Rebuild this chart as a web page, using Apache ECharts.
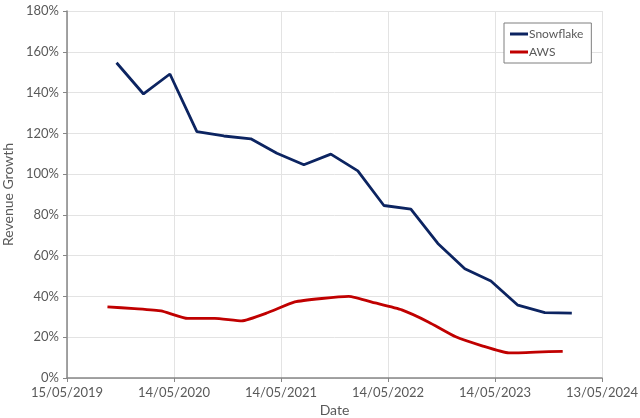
<!DOCTYPE html>
<html>
<head>
<meta charset="utf-8">
<script src="https://cdn.jsdelivr.net/npm/echarts@6/dist/echarts.min.js"></script>
<style>html,body{margin:0;padding:0;background:#fff}#c{width:640px;height:418px}</style>
</head>
<body>
<div id="c"></div>
<script>
const axisStart = '2019-05-15';
const axisEnd = '2024-05-13';
const snowflakeDates = ['2019-10-31','2020-01-31','2020-04-30','2020-07-31','2020-10-31','2021-01-31','2021-04-30','2021-07-31','2021-10-31','2022-01-31','2022-04-30','2022-07-31','2022-10-31','2023-01-31','2023-04-30','2023-07-31','2023-10-31','2024-01-31'];
const snowflakeGrowth = [154.6, 139.3, 149.1, 120.8, 118.7, 117.3, 110.2, 104.6, 109.8, 101.6, 84.6, 82.8, 66.0, 53.6, 47.6, 35.7, 32.1, 31.8];
const awsDates = ['2019-09-30','2019-12-31','2020-03-31','2020-06-30','2020-09-30','2020-12-31','2021-03-31','2021-06-30','2021-09-30','2021-12-31','2022-03-31','2022-06-30','2022-09-30','2022-12-31','2023-03-31','2023-06-30','2023-09-30','2023-12-31'];
const awsGrowth = [34.9, 34.0, 32.9, 29.2, 29.2, 28.0, 32.1, 37.3, 39.0, 40.0, 36.8, 33.4, 27.4, 20.2, 15.8, 12.3, 12.7, 13.1];
const yTicks = [0, 20, 40, 60, 80, 100, 120, 140, 160, 180];

const DAY = 86400000;
const base = Date.parse(axisStart + 'T00:00:00Z');
const toDay = s => Math.round((Date.parse(s + 'T00:00:00Z') - base) / DAY);
const fmt = v => {
  const d = new Date(base + v * DAY);
  const p = n => String(n).padStart(2, '0');
  return p(d.getUTCDate()) + '/' + p(d.getUTCMonth() + 1) + '/' + d.getUTCFullYear();
};
const font = 'Lato, "Open Sans", sans-serif';
const chart = echarts.init(document.getElementById('c'), null, {renderer: 'canvas'});
chart.setOption({
  animation: false,
  textStyle: {fontFamily: font},
  grid: {left: 67, right: 38, top: 11, bottom: 40, containLabel: false, outerBoundsMode: 'none'},
  legend: {
    orient: 'vertical', left: 504, top: 23,
    padding: [5, 8, 5, 6], itemGap: 6,
    borderColor: '#7f7f7f', borderWidth: 1, backgroundColor: '#fff',
    icon: 'rect', itemWidth: 18, itemHeight: 3,
    textStyle: {fontFamily: font, fontSize: 12, color: '#595959', padding: [0, 0, 0, -4]},
    data: ['Snowflake', 'AWS']
  },
  xAxis: {
    type: 'value', min: 0, max: toDay(axisEnd), interval: 365,
    name: 'Date', nameLocation: 'middle', nameGap: 24,
    nameTextStyle: {fontFamily: font, fontSize: 14, color: '#595959'},
    axisLine: {show: true, lineStyle: {color: '#868686', width: 1.5}},
    axisTick: {show: true, length: 4, lineStyle: {color: '#868686'}},
    axisLabel: {formatter: fmt, fontSize: 13, color: '#595959', margin: 8},
    splitLine: {show: true, lineStyle: {color: '#e3e3e3', width: 1}}
  },
  yAxis: {
    type: 'value', min: yTicks[0], max: yTicks[yTicks.length - 1], interval: yTicks[1] - yTicks[0],
    name: 'Revenue Growth', nameLocation: 'middle', nameGap: 47,
    nameTextStyle: {fontFamily: font, fontSize: 14, color: '#595959'},
    axisLine: {show: true, lineStyle: {color: '#868686', width: 1.5}},
    axisTick: {show: true, length: 4, lineStyle: {color: '#868686'}},
    axisLabel: {formatter: '{value}%', fontSize: 13, color: '#595959', margin: 8},
    splitLine: {show: true, lineStyle: {color: '#e3e3e3', width: 1}}
  },
  series: [
    {
      name: 'Snowflake', type: 'line', showSymbol: false, symbol: 'none',
      lineStyle: {color: '#0c2461', width: 2.8}, itemStyle: {color: '#0c2461'},
      data: snowflakeDates.map((d, i) => [toDay(d), snowflakeGrowth[i]])
    },
    {
      name: 'AWS', type: 'line', showSymbol: false, symbol: 'none', smooth: 0.15,
      lineStyle: {color: '#c00000', width: 2.8}, itemStyle: {color: '#c00000'},
      data: awsDates.map((d, i) => [toDay(d), awsGrowth[i]])
    }
  ]
});
</script>
</body>
</html>
